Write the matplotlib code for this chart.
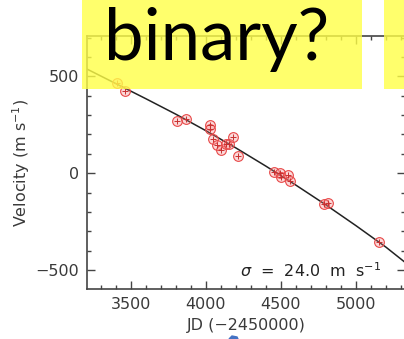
import numpy as np
import matplotlib.pyplot as plt
from matplotlib.patches import Rectangle, Polygon
from matplotlib.ticker import MultipleLocator

# --- radial velocity measurements (JD - 2450000, m/s) ---
jd = [3407, 3460, 3805, 3867, 4027, 4027, 4049, 4076, 4098, 4131, 4153,
      4178, 4215, 4454, 4494, 4500, 4549, 4560, 4787, 4815, 5155]
vel = [467, 426, 267, 279, 246, 229, 176, 145, 121, 150, 150,
       186, 86, 5, 0, -21, -9, -38, -160, -152, -355]

# --- fitted curve ---
fit_jd = [3200, 3400, 3600, 3800, 4000, 4200, 4400, 4600, 4800, 5000, 5200, 5330]
fit_vel = [540, 462, 384, 304, 219, 130, 36, -62, -164, -271, -382, -462]

sigma_label = r'$\sigma$  =  24.0  m  s$^{-1}$'
overlay_text = 'binary?'

W, H = 404, 339
fig = plt.figure(figsize=(W / 100, H / 100), dpi=100)
ax = fig.add_axes([87 / W, 1 - 289 / H, (405 - 87) / W, (289 - 36) / H])

ax.plot(fit_jd, fit_vel, color='#222222', lw=1.1, zorder=2)
ax.plot(jd, vel, 'o', ms=7, mfc=(0.95, 0.5, 0.5, 0.3), mec='#e84848',
        mew=0.8, zorder=3)
ax.plot(jd, vel, '+', ms=4.5, color='#c83030', mew=0.7, zorder=4)

ax.set_xlim(3207, 5327)
ax.set_ylim(-598, 708)
ax.xaxis.set_major_locator(MultipleLocator(500))
ax.xaxis.set_minor_locator(MultipleLocator(100))
ax.yaxis.set_major_locator(MultipleLocator(500))
ax.yaxis.set_minor_locator(MultipleLocator(100))
ax.tick_params(which='both', direction='in', top=True, right=True,
               colors='#444444', labelcolor='#3a3a3a', labelsize=11.5, pad=6)
ax.tick_params(which='major', length=5.8, width=1.0)
ax.tick_params(which='minor', length=2.9, width=1.0)
for s in ax.spines.values():
    s.set_color('#444444')
    s.set_linewidth(1.2)

ax.set_xlabel('JD (\u22122450000)', fontsize=11.5, color='#3a3a3a', labelpad=4)
ax.set_ylabel('Velocity (m s$^{-1}$)', fontsize=11.5, color='#3a3a3a', labelpad=2)

ax.text(5170, -536, sigma_label, fontsize=11.5, color='#222222',
        ha='right', va='baseline')

# --- slide overlays ---
yel = '#ffff47'
fig.patches.append(Rectangle((82 / W, 1 - 89 / H), (362 - 82) / W, 89 / H,
                             transform=fig.transFigure, color=yel, alpha=0.8,
                             zorder=10, lw=0))
fig.patches.append(Rectangle((384 / W, 1 - 89 / H), 30 / W, 89 / H,
                             transform=fig.transFigure, color=yel, alpha=0.8,
                             zorder=10, lw=0))
fig.text(104 / W, 1 - 60 / H, overlay_text, fontsize=51, family='Lato',
         color='black', ha='left', va='baseline', zorder=11)
fig.patches.append(Polygon([(229 / W, 0), (232 / W, 3 / H), (237 / W, 2 / H),
                            (238 / W, 0)], closed=True,
                           transform=fig.transFigure, color='#4472c4', zorder=10))

fig.savefig('out.png', dpi=100)
